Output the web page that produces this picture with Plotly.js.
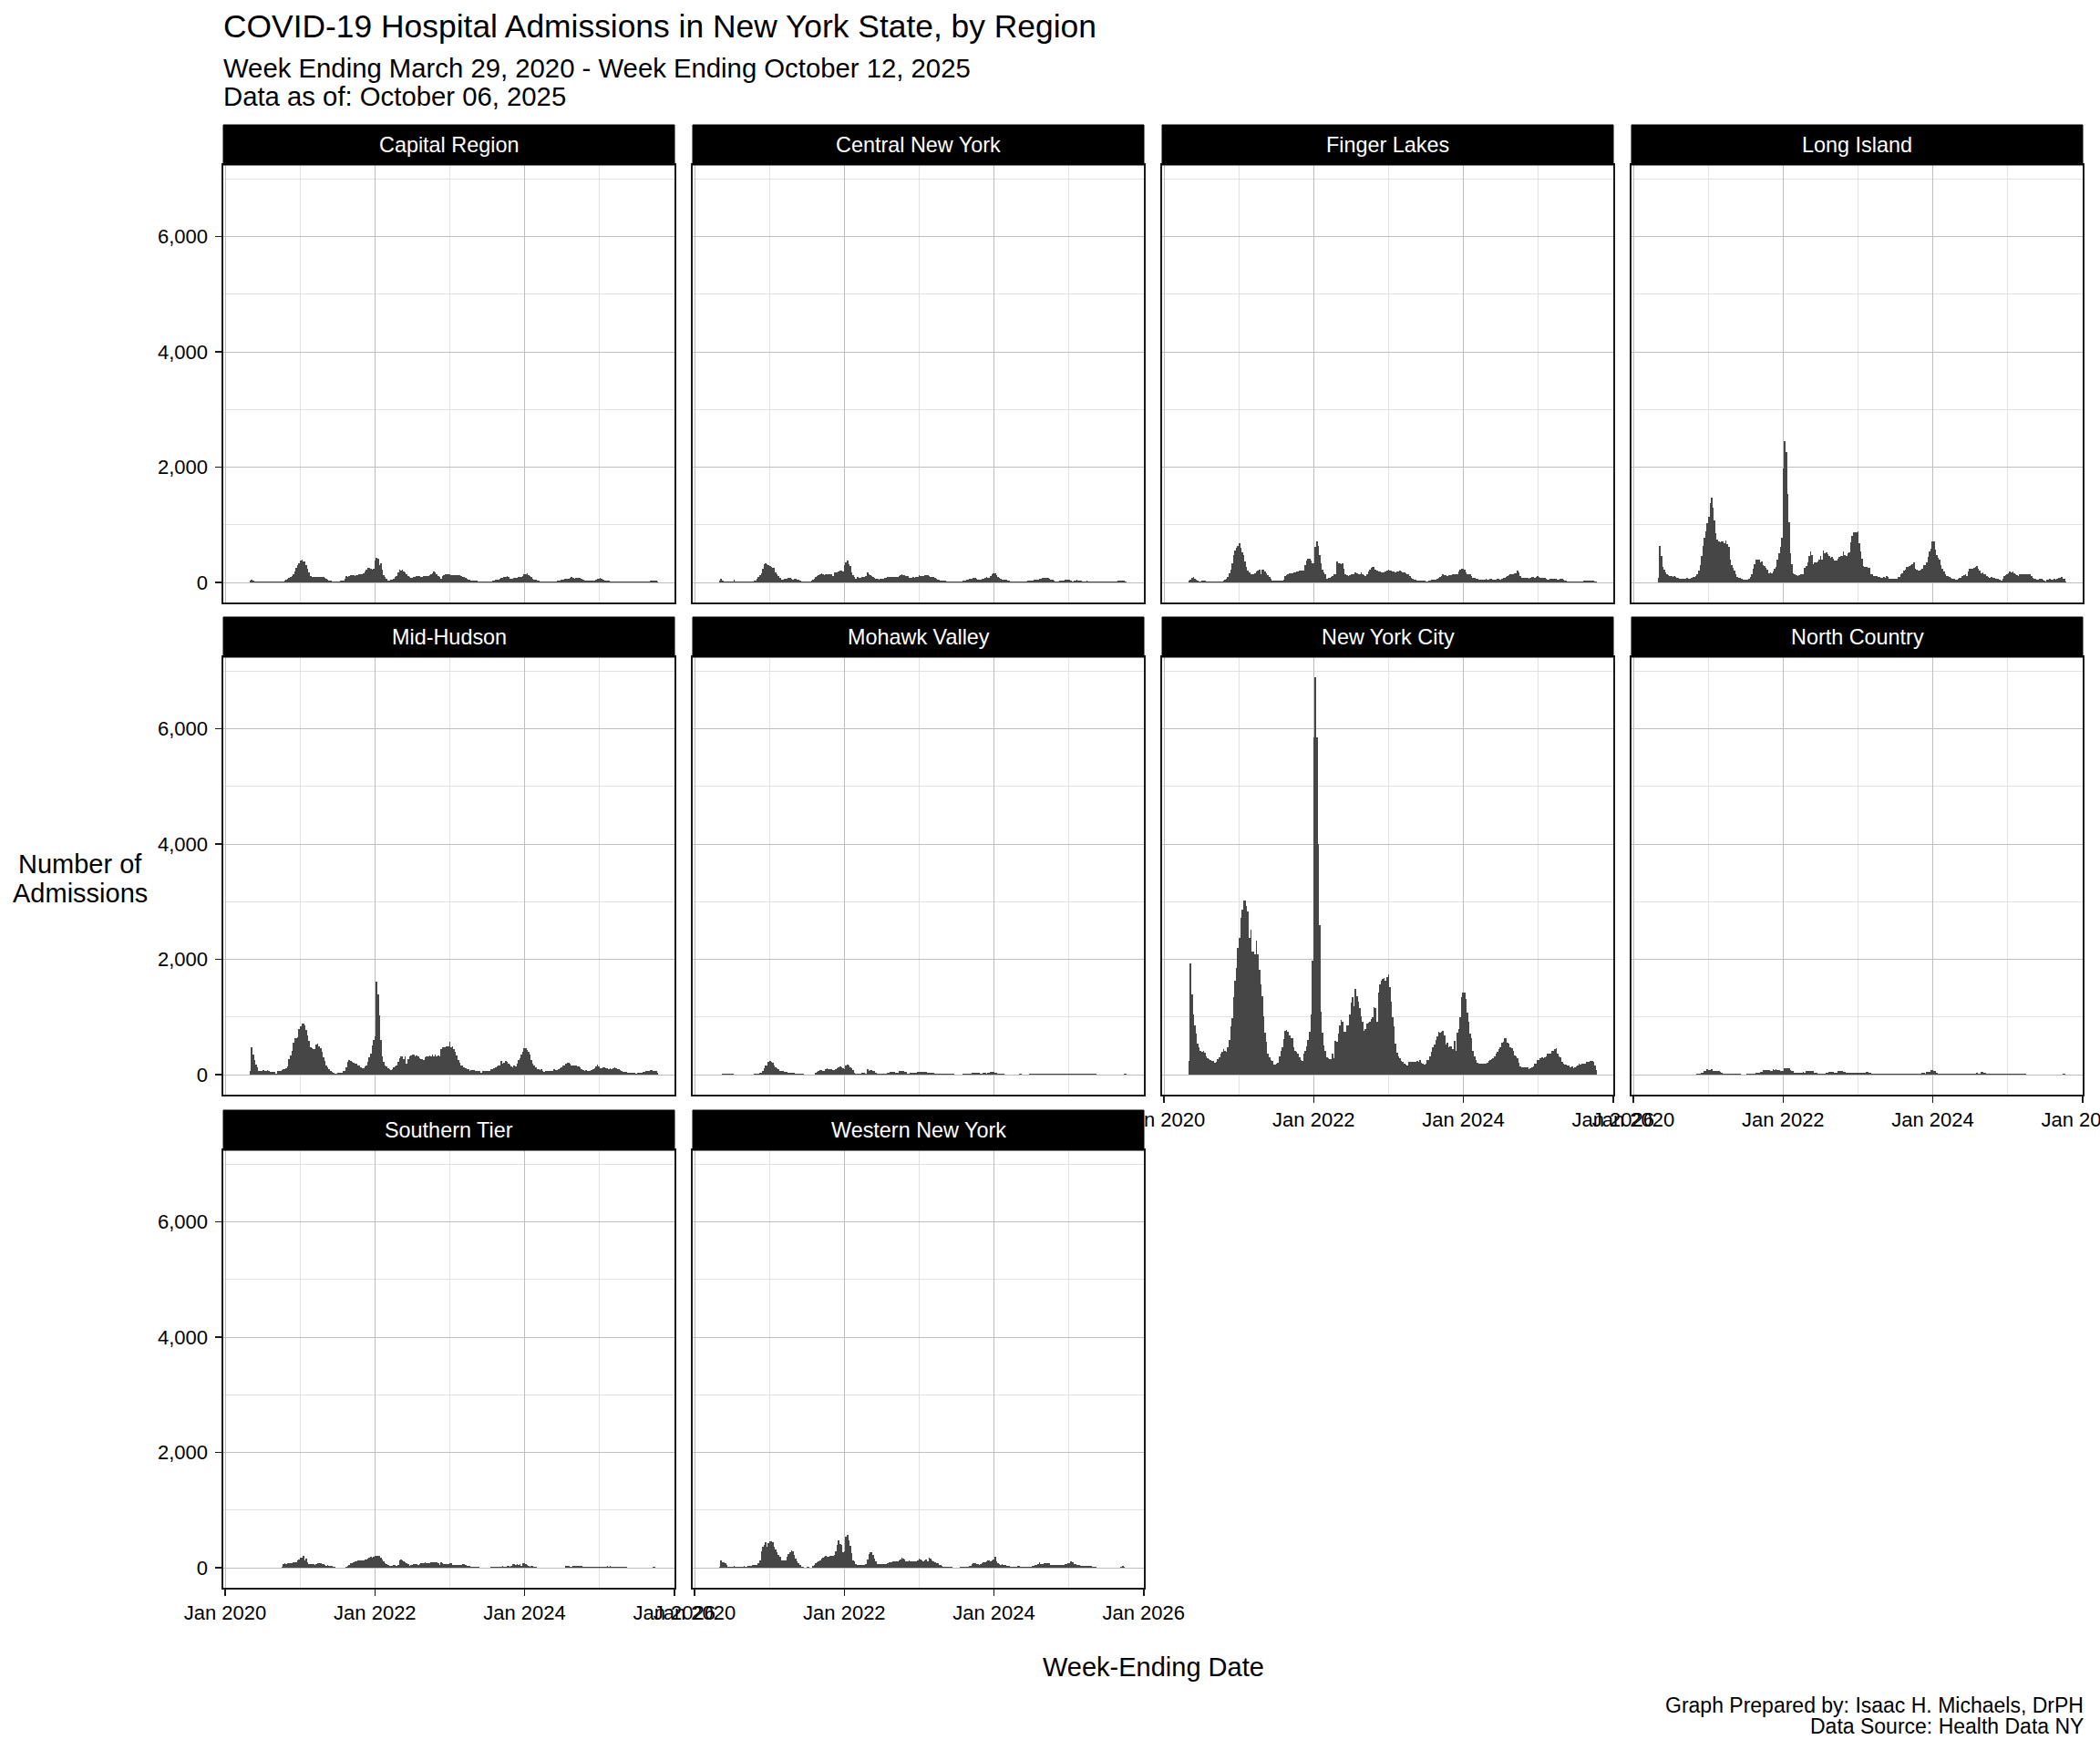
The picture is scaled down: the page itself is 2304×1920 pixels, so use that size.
<!DOCTYPE html>
<html>
<head>
<meta charset="utf-8">
<script src="https://cdn.plot.ly/plotly-3.0.1.min.js"></script>
<style>
html,body{margin:0;padding:0;background:#ffffff;}
#chart{width:2304px;height:1920px;}
</style>
</head>
<body>
<div id="chart"></div>
<script>
// ---------------- DATA ----------------
const regionNames = ["Capital Region","Central New York","Finger Lakes","Long Island","Mid-Hudson","Mohawk Valley","New York City","North Country","Southern Tier","Western New York"];
const firstWeekEnding = "2020-03-29";
const weekCount = 290;

const capitalRegion = [
0,0,0,0,0,30,45,35,20,18, 15,15,14,15,14,15,20,18,18,17, 18,17,20,20,19,22,22,25,22,30,
45,60,80,95,115,150,200,250,300,335, 380,395,370,360,300,240,175,110,100,95, 90,100,105,100,100,100,95,75,65,55,
40,30,20,18,20,22,25,25,28,30, 40,65,110,105,120,126,126,126,120,126, 135,142,142,150,165,200,226,263,250,240,
226,240,380,437,420,300,342,226,132,95, 70,42,42,48,53,68,90,110,184,226, 216,226,195,184,147,110,90,79,84,95,
100,116,116,110,100,105,108,110,110,118, 126,142,165,195,174,142,116,90,68,110, 132,138,142,142,140,137,137,137,137,137,
135,132,120,105,95,84,68,55,47,40, 37,42,35,32,26,24,20,20,20,20, 20,20,20,20,30,37,47,52,58,65,
75,84,90,105,116,90,70,68,68,79, 82,84,105,90,100,121,142,150,163,132, 110,90,68,55,48,42,32,26,20,20,
20,20,20,20,20,20,22,22,26,30, 37,40,47,52,60,65,70,74,80,90, 75,68,84,80,79,79,70,53,40,32,
32,34,37,38,40,42,50,60,68,79, 60,47,42,40,32,28,20,20,20,20, 20,20,20,20,20,20,20,20,20,20,
20,20,20,20,20,20,20,20,20,20, 20,20,20,25,28,30,32,35,37,15];

const centralNewYork = [
0,0,0,0,0,30,68,30,25,22, 20,20,18,20,20,45,20,20,20,20, 20,20,20,20,20,20,20,20,25,42,
40,68,100,130,165,245,320,330,320,300, 280,265,250,250,180,140,120,80,55,58, 60,63,72,79,84,60,47,65,60,53,
45,37,20,20,20,20,20,20,20,30, 50,68,90,110,135,142,158,140,132,147, 147,147,147,140,121,170,184,184,195,205,
210,200,300,350,384,320,280,170,132,100, 68,90,85,79,95,95,100,120,184,147, 132,120,105,84,70,62,58,63,65,68,
75,80,90,95,92,90,90,90,90,100, 110,135,138,132,126,120,110,84,79,85, 90,84,95,105,132,120,116,121,126,126,
126,110,100,90,90,80,68,55,47,42, 37,32,28,26,20,20,20,20,20,20, 20,20,20,22,26,35,42,50,55,60,
68,73,79,75,68,58,50,47,60,70, 79,90,85,79,115,140,155,163,130,100, 84,68,58,53,58,45,37,28,22,20,
20,20,20,20,20,20,20,20,20,25, 28,30,34,37,45,50,52,53,60,68, 75,84,84,80,79,65,55,47,35,26,
26,26,28,32,37,42,47,52,58,45, 32,26,34,42,47,40,37,28,22,20, 26,32,25,20,20,20,20,20,20,20,
20,20,20,20,20,20,20,20,20,20, 20,20,25,30,32,38,42,35,20,10];

const fingerLakes = [
0,0,0,0,0,30,53,80,105,74, 50,37,25,21,28,32,32,25,21,21, 21,18,16,16,16,16,16,16,20,35,
45,63,95,155,225,330,470,560,605,640, 680,600,530,470,360,270,205,179,145,142, 153,168,185,205,221,153,231,221,195,165,
130,90,63,40,32,32,32,32,32,35, 40,53,110,125,142,155,163,168,175,184, 190,195,205,210,216,216,300,380,421,416,
380,342,342,626,710,640,484,330,220,184, 153,74,79,85,95,116,140,153,363,342, 330,326,337,247,153,125,116,132,142,150,
153,174,160,153,142,184,142,125,121,142, 195,221,258,270,279,231,205,195,190,184, 184,184,195,205,221,216,210,200,195,184,
190,200,205,195,184,175,165,153,153,116, 89,63,55,47,42,37,37,37,32,28, 26,26,30,37,45,50,53,58,63,80,
95,116,142,135,125,116,126,130,132,142, 150,145,142,195,226,237,237,220,180,150, 142,142,110,89,79,70,63,55,53,58,
53,55,63,58,53,65,62,58,58,58, 63,60,58,72,75,79,100,115,132,145, 153,153,160,168,205,184,121,89,85,79,
79,75,63,85,95,100,89,95,110,95, 89,80,79,79,63,58,53,60,68,74, 68,63,53,58,68,62,58,37,30,26,
26,24,21,18,16,16,18,21,24,26, 30,32,32,32,32,35,37,30,21,12];

const longIsland = [
0,0,0,0,0,79,632,458,274,221, 184,142,132,116,116,100,116,100,89,79, 63,63,63,63,68,79,74,63,89,95,
95,116,150,205,300,468,632,774,895,1026, 1142,1379,1479,1300,1079,853,747,711,695,711, 711,679,737,668,616,405,311,258,211,142,
100,89,79,63,53,58,58,58,63,105, 153,247,326,405,405,405,353,363,311,289, 258,221,168,184,158,200,247,274,405,511,
616,774,1984,2447,2258,1537,1047,511,326,168, 142,132,116,132,153,153,142,258,289,353, 458,537,484,316,353,353,363,395,458,405,
553,511,521,500,468,432,442,416,379,379, 416,447,468,458,537,484,458,511,521,695, 816,879,868,879,889,679,537,416,289,274,
274,258,258,153,142,116,116,121,100,105, 89,89,100,89,116,100,74,63,74,74, 74,63,100,105,142,168,205,221,268,274,
289,300,326,353,237,221,216,216,232,237, 300,311,353,447,537,589,711,711,574,474, 432,395,311,247,195,142,116,116,100,84,
74,68,58,47,63,79,89,116,132,153, 116,195,237,237,247,258,274,284,247,205, 168,184,153,142,116,100,89,100,89,79,
74,74,63,47,37,63,116,132,153,168, 195,184,195,168,153,132,116,142,153,142, 142,142,153,142,153,116,89,63,63,58,
47,63,63,47,37,26,58,58,63,47, 47,63,58,63,79,79,100,74,60,21];

const midHudson = [
0,0,0,0,0,63,474,358,263,184, 126,68,63,63,79,70,63,79,68,53, 53,53,53,26,63,63,63,79,95,105,
116,147,274,342,421,553,632,642,658,800, 842,895,895,853,774,684,589,474,463,447, 447,526,537,500,463,395,300,237,168,132,
95,63,53,37,26,26,37,42,42,42, 63,63,132,232,253,237,221,211,200,190, 168,158,132,116,116,147,168,221,305,368,
516,600,674,1610,1395,1026,600,316,221,168, 147,116,95,84,95,132,147,160,226,289, 316,316,274,316,200,274,316,342,358,358,
326,342,326,289,274,274,263,305,316,326, 342,326,358,316,358,316,342,316,447,474, 484,484,500,500,579,474,500,447,395,342,
263,211,168,158,132,116,105,95,63,79, 79,79,63,74,74,63,42,74,74,63, 63,63,63,95,105,116,132,147,168,168,
237,200,211,237,221,200,184,147,132,168, 147,200,253,289,358,395,463,463,430,395, 358,253,200,168,132,105,95,79,95,63,
53,63,63,63,63,63,63,95,79,84, 95,116,132,158,168,200,211,211,200,168, 158,158,158,147,147,132,95,79,63,79,
63,74,63,79,95,116,147,184,147,116, 116,132,132,116,116,105,116,105,116,132, 116,105,95,79,63,53,53,53,42,42,
42,42,37,37,21,37,37,42,42,53, 53,63,63,74,79,84,74,74,63,30];

const mohawkValley = [
0,0,0,0,0,10,10,26,26,26, 26,16,16,16,16,10,10,10,10,10, 10,10,10,10,10,10,10,10,10,12,
15,18,21,37,37,63,116,158,168,221, 237,221,210,158,132,116,95,63,63,63, 53,53,53,42,42,42,42,32,26,26,
21,21,21,21,10,10,10,10,10,10, 10,10,42,53,68,79,79,63,63,105, 116,95,95,95,79,79,105,116,132,147,
132,116,95,158,174,158,132,116,89,42, 26,26,26,26,37,37,42,26,95,63, 84,79,63,63,42,26,26,26,26,26,
26,26,42,42,53,53,53,53,42,42, 74,74,68,68,53,53,26,26,37,37, 42,42,42,53,53,53,53,53,53,53,
42,42,42,32,32,21,21,21,21,26, 26,26,16,16,16,16,16,16,16,10, 10,10,10,10,10,16,16,16,16,21,
21,32,32,42,42,32,32,21,21,32, 37,21,42,42,58,58,58,42,42,26, 26,26,21,21,10,10,10,10,10,10,
10,10,10,10,16,16,10,10,10,10, 10,16,16,16,16,21,21,26,26,26, 26,26,26,21,21,16,16,16,16,16,
16,16,16,16,16,26,26,26,26,26, 16,16,21,21,21,16,16,16,16,16, 16,16,16,16,16,16,16,16,10,10,
10,10,10,10,10,10,10,10,10,10, 10,10,10,10,10,10,10,16,16,8];

const newYorkCity = [
0,0,0,0,0,240,1930,1390,1040,850, 710,540,470,420,395,410,380,315,290,275, 250,237,237,210,230,270,310,360,395,440,
420,405,485,600,840,985,1340,1630,1850,2200, 2380,2715,2870,3030,3020,2925,2830,2370,2510,2130, 2130,2095,2325,2090,1815,1570,1360,1010,737,580,
370,300,255,237,170,180,185,205,315,410, 475,620,765,775,750,685,640,640,475,420, 395,360,305,250,237,370,410,500,605,750,
1050,1975,5850,6900,5850,4000,2590,1095,737,505, 420,305,290,275,275,370,285,590,580,710, 850,950,920,750,750,850,850,1050,1250,1340,
1185,1485,1360,1275,1160,1010,920,765,790,895, 910,920,975,1000,1170,1160,920,1420,1570,1630, 1660,1685,1630,1700,1740,1525,1265,1000,840,540,
380,315,290,237,220,185,170,160,225,225, 225,225,225,225,237,220,250,210,185,170, 185,250,250,315,395,475,525,605,660,750,
737,750,765,685,525,550,475,500,500,445, 590,420,737,800,1000,1340,1420,1430,1315,1080, 920,710,630,420,315,260,210,200,185,185,
185,185,185,210,237,250,275,285,315,370, 395,445,475,550,580,640,640,550,540,475, 465,420,340,325,280,210,150,130,130,130,
130,130,105,115,130,150,185,200,260,260, 290,305,295,305,325,360,370,370,410,420, 440,465,360,325,305,220,185,170,170,160,
160,130,150,115,130,150,160,185,175,185, 195,200,220,220,230,237,237,230,160,80];

const northCountry = [
0,0,0,0,0,3,5,5,5,5, 5,5,5,5,5,5,5,5,5,5, 5,5,5,5,5,5,5,5,5,5,
5,10,16,16,16,42,42,63,63,95, 89,89,95,74,74,63,63,63,45,32, 21,21,21,21,21,26,26,16,16,16,
16,16,16,10,10,10,10,16,16,16, 16,26,26,42,42,42,53,53,84,84, 79,79,79,63,63,95,79,105,89,89,
74,74,63,116,121,121,121,89,63,63, 42,42,42,42,42,42,53,42,63,63, 74,74,63,63,42,42,26,26,26,26,
26,26,37,37,53,53,53,53,42,42, 63,63,74,74,53,53,42,42,42,42, 42,32,32,37,37,37,42,42,37,37,
53,53,42,42,26,26,16,16,16,16, 16,16,16,16,16,16,16,16,21,21, 21,21,21,21,21,21,21,26,26,26,
26,26,26,26,21,21,26,26,26,32, 32,21,53,53,53,79,79,63,63,42, 26,26,26,26,16,16,16,16,16,16,
16,16,16,16,16,16,16,16,16,21, 21,21,21,21,21,21,21,42,26,26, 53,53,42,42,26,26,16,16,16,16,
16,16,16,16,16,16,16,16,16,21, 21,21,21,21,21,21,21,21,16,16, 16,16,10,10,10,10,10,10,10,10,
10,10,10,10,10,10,10,10,10,10, 10,10,10,10,10,10,10,16,16,8];

const southernTier = [
0,0,0,0,0,5,8,10,10,10, 10,10,10,10,10,10,10,10,10,10, 10,10,10,10,10,10,10,16,74,84,
68,79,79,79,85,95,95,100,137,147, 174,184,205,137,163,100,74,63,68,68, 58,74,79,79,84,74,74,58,37,47,
42,37,32,16,16,5,5,5,5,5, 5,8,21,37,47,79,89,100,110,121, 132,137,126,137,137,147,153,163,175,189,
184,189,205,216,205,205,174,153,110,84, 68,47,37,37,42,47,47,42,47,137, 147,137,110,100,79,68,42,47,58,74,
68,68,47,68,79,79,79,95,89,79, 89,100,100,100,100,100,79,58,95,84, 68,74,74,74,79,89,58,58,58,58,
53,53,58,68,68,58,42,42,32,16, 21,21,21,16,16,10,10,10,10,10, 10,10,10,16,16,16,26,21,26,26,
21,32,26,26,32,32,26,32,68,63, 58,63,58,63,42,79,75,68,58,42, 26,32,32,21,16,10,10,10,10,10,
10,10,10,10,10,10,10,10,10,10, 10,10,10,10,10,32,32,32,26,26, 37,42,37,37,37,32,32,26,21,21,
21,16,16,16,16,21,26,21,21,21, 16,21,21,26,32,26,32,26,21,21, 16,16,21,21,16,16,21,21,10,10,
10,10,10,10,10,10,10,10,10,10, 10,10,10,10,10,10,21,21,10,5];

const westernNewYork = [
0,0,0,0,0,16,137,100,100,84, 58,26,26,26,16,37,21,21,21,21, 21,21,37,26,26,32,42,42,53,53,
58,58,84,137,295,374,400,442,374,426, 463,463,453,374,321,268,226,189,132,132, 132,137,189,242,268,311,295,226,163,110,
79,47,16,16,5,10,26,26,5,10, 42,58,84,100,121,137,163,174,189,205, 189,189,205,205,215,226,295,400,479,411,
400,268,295,542,574,479,384,258,137,110, 68,58,58,58,58,58,58,68,153,242, 268,268,226,163,110,68,68,68,68,74,
74,74,79,100,100,100,110,110,110,121, 137,153,174,163,153,121,110,137,121,110, 110,110,121,137,163,153,137,121,137,153,
121,174,163,137,121,100,84,84,58,47, 37,26,16,16,21,21,16,16,10,10, 10,10,10,16,21,21,21,21,21,32,
32,74,84,79,74,68,58,74,84,100, 100,121,137,137,121,137,153,189,121,84, 68,58,68,58,47,37,32,37,26,26,
16,21,21,32,32,21,21,16,16,21, 21,21,21,32,37,47,47,68,100,68, 68,84,79,84,79,89,47,58,47,58,
47,47,58,47,58,47,68,68,84,89, 110,100,68,68,58,47,47,42,42,32, 32,32,32,32,32,16,16,16,10,10,
10,10,10,10,10,10,10,10,10,10, 10,10,10,10,10,26,42,26,10,5];

const regionValues = [capitalRegion, centralNewYork, fingerLakes, longIsland, midHudson, mohawkValley, newYorkCity, northCountry, southernTier, westernNewYork];

const yTickVals = [0, 2000, 4000, 6000];
const yTickText = ["0", "2,000", "4,000", "6,000"];
const yMinorVals = [1000, 3000, 5000, 7000];
const xTickVals = ["2020-01-01", "2022-01-01", "2024-01-01", "2026-01-01"];
const xTickText = ["Jan 2020", "Jan 2022", "Jan 2024", "Jan 2026"];
const xMinorVals = ["2021-01-01", "2023-01-01", "2025-01-01"];

const titleText = "COVID-19 Hospital Admissions in New York State, by Region";
const subtitleLine1 = "Week Ending March 29, 2020 - Week Ending October 12, 2025";
const subtitleLine2 = "Data as of: October 06, 2025";
const xTitleText = "Week-Ending Date";
const yTitleLines = ["Number of", "Admissions"];
const captionLines = ["Graph Prepared by: Isaac H. Michaels, DrPH", "Data Source: Health Data NY"];

// week-ending dates (category labels of the weekly bars)
const weekEnding = [];
{
  const t0 = Date.parse(firstWeekEnding + "T00:00:00Z");
  for (let i = 0; i < weekCount; i++) {
    weekEnding.push(new Date(t0 + i * 7 * 86400000).toISOString().slice(0, 10));
  }
}

// ---------------- LAYOUT ----------------
const W = 2304, H = 1920;
const FONT = "Liberation Sans, Arial, Helvetica, sans-serif";
const colLeft = [245, 760, 1275, 1790];
const panelW = 495;
const stripTop = [137, 677, 1218];
const stripH = 44;
const panelH = 480;
const px = v => v / W;
const py = v => 1 - v / H;

const traces = [];
const layout = {
  width: W, height: H,
  margin: {l: 0, r: 0, t: 0, b: 0, pad: 0},
  paper_bgcolor: "#ffffff",
  plot_bgcolor: "#ffffff",
  showlegend: false,
  bargap: 0,
  font: {family: FONT, color: "#000000"},
  title: {
    text: titleText,
    font: {family: FONT, size: 35.4, color: "#000000"},
    x: px(245), xref: "paper", xanchor: "left",
    y: py(29), yref: "container", yanchor: "middle"
  },
  shapes: [],
  annotations: []
};

const lastRowOfCol = [2, 2, 1, 1];

regionNames.forEach((name, k) => {
  const n = k + 1;
  const r = Math.floor(k / 4), c = k % 4;
  const left = colLeft[c];
  const top = stripTop[r] + stripH;
  const bottom = top + panelH;
  const showX = (r === lastRowOfCol[c]);
  const showY = (c === 0);
  const xa = "xaxis" + (n === 1 ? "" : n);
  const ya = "yaxis" + (n === 1 ? "" : n);

  traces.push({
    type: "bar",
    x: weekEnding,
    y: regionValues[k],
    xaxis: "x" + (n === 1 ? "" : n),
    yaxis: "y" + (n === 1 ? "" : n),
    marker: {color: "#464646", line: {width: 0}},
    hoverinfo: "skip"
  });

  layout[xa] = {
    domain: [px(left), px(left + panelW)],
    anchor: "y" + (n === 1 ? "" : n),
    type: "date",
    range: ["2019-12-23", "2026-01-02"],
    tickmode: "array", tickvals: xTickVals, ticktext: xTickText,
    showticklabels: showX,
    ticklabeloverflow: "allow",
    ticks: showX ? "outside" : "",
    ticklen: 7, tickwidth: 1.5, tickcolor: "#1a1a1a",
    tickfont: {family: FONT, size: 22, color: "#000000"},
    showgrid: true, gridcolor: "#bdbdbd", gridwidth: 1,
    minor: {tickmode: "array", tickvals: xMinorVals, showgrid: true, gridcolor: "#e2e2e2", gridwidth: 1, ticks: ""},
    showline: true, mirror: true, linecolor: "#1a1a1a", linewidth: 1.6,
    zeroline: false, fixedrange: true
  };
  layout[ya] = {
    domain: [py(bottom), py(top)],
    anchor: "x" + (n === 1 ? "" : n),
    range: [-345, 7245],
    tickmode: "array", tickvals: yTickVals, ticktext: yTickText,
    showticklabels: showY,
    ticks: showY ? "outside" : "",
    ticklen: 7, tickwidth: 1.5, tickcolor: "#1a1a1a",
    ticklabelstandoff: 4,
    tickfont: {family: FONT, size: 22, color: "#000000"},
    showgrid: true, gridcolor: "#bdbdbd", gridwidth: 1,
    minor: {tickmode: "array", tickvals: yMinorVals, showgrid: true, gridcolor: "#e2e2e2", gridwidth: 1, ticks: ""},
    showline: true, mirror: true, linecolor: "#1a1a1a", linewidth: 1.6,
    zeroline: false, fixedrange: true
  };

  // facet strip
  layout.shapes.push({
    type: "rect", xref: "paper", yref: "paper",
    x0: px(left), x1: px(left + panelW),
    y0: py(stripTop[r] + stripH), y1: py(stripTop[r]),
    fillcolor: "#000000", line: {width: 1, color: "#000000"}, layer: "above"
  });
  layout.annotations.push({
    text: name, xref: "paper", yref: "paper",
    x: px(left + panelW / 2), y: py(stripTop[r] + stripH / 2),
    xanchor: "center", yanchor: "middle", showarrow: false,
    font: {family: FONT, size: 23.4, color: "#ffffff"}
  });
});

// subtitle, axis titles, caption
const ann = (text, x, y, xanchor, size) => layout.annotations.push({
  text: text, xref: "paper", yref: "paper", x: px(x), y: py(y),
  xanchor: xanchor, yanchor: "middle", showarrow: false,
  font: {family: FONT, size: size, color: "#000000"}
});
ann(subtitleLine1, 243, 74, "left", 29.3);
ann(subtitleLine2, 243, 105, "left", 29.3);
ann(xTitleText, 1265, 1829, "center", 29);
ann(yTitleLines[0], 88, 948, "center", 29);
ann(yTitleLines[1], 88, 980, "center", 29);
ann(captionLines[0], 2288, 1871, "right", 23);
ann(captionLines[1], 2288, 1894, "right", 23);

Plotly.newPlot("chart", traces, layout, {displayModeBar: false, staticPlot: true});
</script>
</body>
</html>
